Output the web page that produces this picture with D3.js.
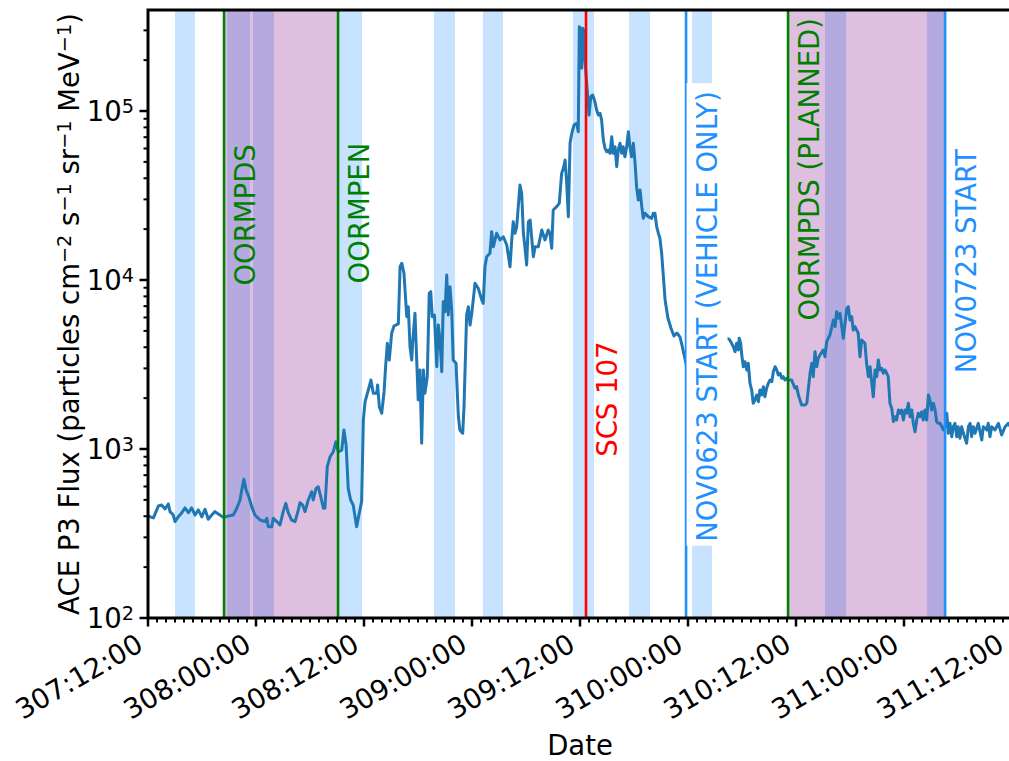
<!DOCTYPE html>
<html>
<head>
<meta charset="utf-8">
<script src="https://cdn.jsdelivr.net/npm/d3@7"></script>
<style>
  body { margin: 0; background: #fff; }
  svg { display: block; }
  text { font-family: "DejaVu Sans", sans-serif; white-space: pre; }
</style>
</head>
<body>
<svg id="chart" width="1009" height="761"></svg>
<script>
// ACE P3 proton flux, day-of-year time stamps (decimal days)
const doy = [
  307.500,307.509,307.525,307.548,307.563,307.579,307.594,307.602,307.617,307.625,
  307.640,307.656,307.671,307.687,307.702,307.718,307.733,307.749,307.764,307.779,
  307.795,307.810,307.833,307.849,307.872,307.895,307.911,307.926,307.934,307.944,
  307.954,307.964,307.980,307.995,308.019,308.042,308.050,308.057,308.073,308.080,
  308.096,308.111,308.126,308.138,308.150,308.165,308.181,308.196,308.204,308.216,
  308.227,308.242,308.258,308.265,308.278,308.288,308.296,308.312,308.319,308.330,
  308.343,308.358,308.370,308.381,308.397,308.407,308.417,308.427,308.438,308.450,
  308.466,308.478,308.489,308.497,308.505,308.520,308.532,308.543,308.559,308.563,
  308.571,308.582,308.593,308.600,308.608,308.617,308.628,308.639,308.659,308.667,
  308.675,308.685,308.698,308.705,308.713,308.721,308.725,308.736,308.744,308.751,
  308.759,308.767,308.775,308.782,308.793,308.802,308.809,308.816,308.826,308.837,
  308.844,308.852,308.860,308.867,308.875,308.883,308.890,308.898,308.906,308.913,
  308.926,308.937,308.944,308.957,308.963,308.971,308.975,308.983,308.991,308.999,
  309.014,309.029,309.045,309.052,309.060,309.068,309.083,309.091,309.099,309.114,
  309.130,309.145,309.161,309.176,309.184,309.191,309.199,309.207,309.222,309.230,
  309.238,309.245,309.253,309.261,309.269,309.276,309.284,309.292,309.307,309.323,
  309.338,309.353,309.361,309.369,309.376,309.392,309.404,309.415,309.423,309.431,
  309.438,309.446,309.454,309.462,309.472,309.485,309.492,309.497,309.505,309.508,
  309.513,309.519,309.523,309.542,309.550,309.559,309.569,309.577,309.585,309.593,
  309.600,309.608,309.616,309.624,309.631,309.639,309.647,309.654,309.662,309.670,
  309.677,309.685,309.693,309.700,309.708,309.716,309.724,309.731,309.739,309.747,
  309.755,309.762,309.770,309.778,309.786,309.793,309.801,309.816,309.832,309.839,
  309.847,309.855,309.863,309.870,309.878,309.886,309.894,309.907,309.921,309.935,
  309.949,309.963,309.972,309.981,309.993,310.037,310.083,310.130,310.176,310.191,
  310.198,310.210,310.218,310.225,310.233,310.237,310.244,310.249,310.256,310.264,
  310.272,310.279,310.287,310.295,310.302,310.310,310.318,310.326,310.333,310.341,
  310.349,310.356,310.364,310.372,310.380,310.388,310.395,310.403,310.411,310.418,
  310.426,310.434,310.441,310.449,310.457,310.464,310.480,310.495,310.503,310.511,
  310.526,310.542,310.550,310.565,310.573,310.580,310.588,310.596,310.603,310.611,
  310.626,310.634,310.642,310.657,310.673,310.681,310.688,310.696,310.704,310.712,
  310.719,310.727,310.735,310.742,310.750,310.758,310.765,310.773,310.788,310.796,
  310.804,310.819,310.827,310.835,310.843,310.850,310.858,310.866,310.874,310.881,
  310.889,310.897,310.904,310.912,310.920,310.927,310.935,310.943,310.951,310.958,
  310.966,310.974,310.981,310.989,310.997,311.005,311.012,311.020,311.028,311.036,
  311.043,311.051,311.059,311.066,311.074,311.082,311.089,311.097,311.105,311.113,
  311.120,311.128,311.136,311.144,311.151,311.159,311.167,311.175,311.182,311.190,
  311.198,311.205,311.213,311.221,311.228,311.236,311.244,311.251,311.259,311.267,
  311.275,311.290,311.298,311.306,311.313,311.321,311.329,311.344,311.360,311.367,
  311.383,311.390,311.398,311.406,311.421,311.437,311.452,311.468,311.483,311.500
];

// flux in particles cm^-2 s^-1 sr^-1 MeV^-1
const flux = [
  405,397,391,460,466,442,473,426,407,372,
  397,418,448,420,448,407,436,397,440,384,
  407,426,407,394,401,407,446,499,572,662,
  572,534,456,407,380,372,389,347,347,389,
  372,355,426,477,417,380,372,436,481,466,
  426,499,559,499,585,598,547,446,446,786,
  900,964,1105,964,986,1296,1056,585,499,466,
  347,417,488,1485,1905,2234,2560,2136,2136,2393,
  1780,1627,2183,3069,4220,3362,4840,5344,5495,11990,
  12560,10960,6067,6950,4030,3362,4220,6353,3362,1950,
  2932,1081,2932,2136,2679,8337,8531,6067,6209,3069,
  5417,4416,2866,7447,6493,10710,6209,9125,6640,3362,
  3213,1553,1296,1239,1780,4030,6209,6950,5417,6353,
  9555,8930,7621,7278,11990,13740,14390,19320,15740,18890,
  17260,18030,16110,11990,17260,22130,18890,20660,36480,32580,
  18890,15740,12270,22130,22650,18030,13740,15740,15740,19770,
  17260,19770,18890,15400,25960,27160,28440,42760,45810,51290,
  38190,23710,64420,73810,82600,84560,75480,315500,301500,179000,
  308600,294600,200400,94650,121600,124400,113500,101400,94650,96850,
  88510,67340,60140,57440,58790,56200,70440,56200,61480,46810,
  58790,64420,56200,61480,53650,61480,75480,61480,53650,64420,
  49030,35650,29720,34110,27160,23170,24830,23710,23170,24830,
  24830,20660,18890,17650,14390,10460,7621,5957,5200,4663,
  4856,4598,4125,3650,3097,2932,3273,3855,4539,4457,
  4315,4030,3766,4220,3855,4519,4220,3598,3069,3286,
  2932,3213,2448,2234,1864,1950,2087,1905,2234,2087,
  2338,2039,2287,2448,2560,2502,2866,3069,2932,2741,
  2805,2620,2679,2560,2620,2560,2560,2287,2338,2087,
  1821,1821,1864,2805,3213,2679,3766,3069,3440,3598,
  3855,3516,4315,4728,5798,5295,6493,5934,6353,5295,
  4519,5546,6800,6950,5798,6067,5058,5295,4840,3516,
  4416,4220,3213,2679,3069,2502,2039,2932,2679,3362,
  2932,3004,2805,2932,2805,2679,1864,1741,1452,1553,
  1485,1702,1627,1702,1485,1702,1627,1864,1553,1702,
  1419,1265,1485,1627,1553,1663,1485,1702,1485,2087,
  1950,1702,1864,1702,1452,1419,1419,1355,1296,1355,
  1627,1239,1419,1183,1355,1419,1183,1355,1157,1355,
  1239,1081,1355,1419,1183,1355,1239,1419,1130,1355,
  1296,1419,1183,1355,1296,1419,1211,1355,1419,1300
];

// ground contact passes (DDD:HH:MM)
const contactSpans = [
  ["307:15:00","307:17:13"],
  ["307:20:47","307:23:20"],
  ["307:23:40","308:02:00"],
  ["308:09:00","308:11:47"],
  ["308:19:47","308:22:07"],
  ["309:01:13","309:03:27"],
  ["309:11:13","309:13:33"],
  ["309:17:27","309:19:47"],
  ["310:00:27","310:02:40"],
  ["310:15:13","310:17:33"],
  ["311:02:33","311:04:40"]
];

// science-stop intervals
const stopSpans = [
  ["307:20:27","308:09:07"],
  ["310:11:07","311:04:34"]
];

// commanding events
const eventNames = ["OORMPDS","OORMPEN","SCS 107","NOV0623 START (VEHICLE ONLY)","OORMPDS (PLANNED)","NOV0723 START"];
const eventTimes = ["307:20:27","308:09:07","309:12:40","309:23:47","310:11:07","311:04:34"];

const xTickLabels = ["307:12:00","308:00:00","308:12:00","309:00:00","309:12:00","310:00:00","310:12:00","311:00:00","311:12:00"];
const yTickExponents = [2,3,4,5];

// ---- styling / layout ----
const eventStyle = [
  {color:"green",      frac:0.663, boxed:false},
  {color:"green",      frac:0.666, boxed:false},
  {color:"red",        frac:0.360, boxed:false},
  {color:"dodgerblue", frac:0.496, boxed:true},
  {color:"green",      frac:0.738, boxed:false},
  {color:"dodgerblue", frac:0.587, boxed:false}
];
const FS = 27.5;
const L = 148, R = 1012, T = 10, B = 618;
const W = 1009;

const parseDoy = s => { const [d,h,m] = s.split(":").map(Number); return d + h/24 + m/1440; };

const svg = d3.select("#chart");
const x = d3.scaleLinear().domain([parseDoy(xTickLabels[0]), parseDoy(xTickLabels[xTickLabels.length-1])]).range([L, R]);
const y = d3.scaleLog().domain([100, 3.96e5]).range([B, T]);

svg.append("defs").append("clipPath").attr("id","plotclip")
  .append("rect").attr("x",L).attr("y",T).attr("width",R-L).attr("height",B-T);

const plot = svg.append("g").attr("clip-path","url(#plotclip)");

// contact passes
plot.append("g").selectAll("rect").data(contactSpans).join("rect")
  .attr("x", d => x(parseDoy(d[0])))
  .attr("width", d => x(parseDoy(d[1])) - x(parseDoy(d[0])))
  .attr("y", T).attr("height", B - T)
  .attr("fill","dodgerblue").attr("fill-opacity",0.25);

// stop intervals
plot.append("g").selectAll("rect").data(stopSpans).join("rect")
  .attr("x", d => x(parseDoy(d[0])))
  .attr("width", d => x(parseDoy(d[1])) - x(parseDoy(d[0])))
  .attr("y", T).attr("height", B - T)
  .attr("fill","purple").attr("fill-opacity",0.25);

// flux curve
const line = d3.line().x(i => x(doy[i])).y(i => y(flux[i]));
plot.append("path").attr("d", line(d3.range(doy.length)))
  .attr("fill","none").attr("stroke","#1f77b4").attr("stroke-width",3)
  .attr("stroke-linejoin","round");

// event markers
plot.append("g").selectAll("line").data(eventTimes).join("line")
  .attr("x1", d => x(parseDoy(d))).attr("x2", d => x(parseDoy(d)))
  .attr("y1", T).attr("y2", B)
  .attr("stroke", (d,i) => eventStyle[i].color).attr("stroke-width",2.6);

// event labels
eventNames.forEach((name, i) => {
  const st = eventStyle[i];
  const g = svg.append("g")
    .attr("transform", `translate(${x(parseDoy(eventTimes[i])) + 31},${B - st.frac*(B-T)}) rotate(-90)`);
  const t = g.append("text").attr("text-anchor","middle").attr("font-size",FS)
    .attr("fill", st.color).text(name);
  if (st.boxed) {
    const bb = t.node().getBBox();
    g.insert("rect","text").attr("x", bb.x - 4).attr("y", bb.y - 4.5)
      .attr("width", bb.width + 12).attr("height", bb.height + 9).attr("fill","#fff");
  }
});

// axes
const ax = svg.append("g").attr("stroke","#000");
// x ticks: major every 12 h, minor every hour
const x0 = x.domain()[0], x1 = x.domain()[1];
for (let k = 0; k <= Math.round((x1 - x0)*24); k++) {
  const v = x0 + k/24;
  const major = k % 12 === 0;
  ax.append("line").attr("x1", x(v)).attr("x2", x(v)).attr("y1", B).attr("y2", B + (major ? 8.5 : 4.5))
    .attr("stroke-width", major ? 2.5 : 2);
}
// y ticks
yTickExponents.forEach(e => {
  const v = Math.pow(10, e);
  ax.append("line").attr("x1", L).attr("x2", L - 8.5).attr("y1", y(v)).attr("y2", y(v)).attr("stroke-width",2.5);
  for (let m = 2; m <= 9; m++) {
    const mv = m * v;
    if (mv > y.domain()[1]) break;
    ax.append("line").attr("x1", L).attr("x2", L - 4.5).attr("y1", y(mv)).attr("y2", y(mv)).attr("stroke-width",2);
  }
});
// spines
ax.append("path").attr("d", `M${L},${T}H${R}V${B}H${L}Z`).attr("fill","none")
  .attr("stroke-width",3).attr("stroke-linecap","square");

// x tick labels (the last one is kept inside the page edge)
xTickLabels.forEach(lbl => {
  const px = Math.min(x(parseDoy(lbl)) - 3.2, W - 3), py = 649.5;
  svg.append("text").attr("x", px).attr("y", py).attr("text-anchor","end")
    .attr("font-size", FS).attr("transform", `rotate(-30,${px},${py})`).text(lbl);
});

// y tick labels
yTickExponents.forEach(e => {
  const t = svg.append("text").attr("x", 134).attr("y", y(Math.pow(10,e)) + 10.3)
    .attr("text-anchor","end").attr("font-size", FS);
  t.append("tspan").text("10");
  t.append("tspan").attr("font-size", FS*0.7).attr("dy", -8.4).text(String(e));
});

// axis titles
svg.append("text").attr("x", (L + R)/2).attr("y", 755).attr("text-anchor","middle")
  .attr("font-size", FS).text("Date");

const yl = svg.append("text").attr("text-anchor","middle").attr("font-size", FS)
  .attr("transform", `translate(79,${(T + B)/2}) rotate(-90)`);
const yParts = [["ACE P3 Flux (particles cm",0],["\u22122",1],[" s",0],["\u22121",1],[" sr",0],["\u22121",1],[" MeV",0],["\u22121",1],[")",0]];
let raised = false;
yParts.forEach(([s, sup]) => {
  const ts = yl.append("tspan").text(s);
  if (sup) { ts.attr("font-size", FS*0.7).attr("dy", raised ? 0 : -8.4); raised = true; }
  else if (raised) { ts.attr("dy", 8.4); raised = false; }
});
</script>
</body>
</html>
